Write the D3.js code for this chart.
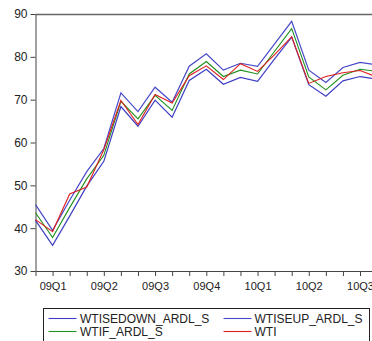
<!DOCTYPE html>
<html>
<head>
<meta charset="utf-8">
<script src="https://cdn.jsdelivr.net/npm/d3@7"></script>
<style>
  html, body { margin: 0; padding: 0; background: #fff; }
  svg { display: block; font-family: "Liberation Sans", Arial, sans-serif; }
</style>
</head>
<body>
<svg id="chart" width="372" height="341"></svg>
<script>
// Monthly observations, Jan 2009 – Sep 2010
const months = [
  "2009-01","2009-02","2009-03","2009-04","2009-05","2009-06","2009-07",
  "2009-08","2009-09","2009-10","2009-11","2009-12","2010-01","2010-02",
  "2010-03","2010-04","2010-05","2010-06","2010-07","2010-08","2010-09"
];

// Forecast minus one standard error
const wtiSeDown = [41.8, 36.0, 42.8, 49.8, 55.6, 68.4, 63.8, 69.9, 65.9, 74.5, 77.1,
                   73.6, 75.2, 74.3, 79.5, 84.6, 73.5, 70.8, 74.4, 75.4, 74.8];
// Forecast plus one standard error
const wtiSeUp   = [45.5, 39.5, 46.5, 53.2, 58.6, 71.6, 67.2, 72.9, 69.4, 77.8, 80.7,
                   76.9, 78.5, 77.8, 83.0, 88.3, 76.9, 74.0, 77.5, 78.7, 78.1];
// ARDL forecast
const wtiF      = [43.6, 37.8, 44.8, 51.5, 57.0, 69.6, 65.5, 71.0, 67.5, 76.0, 78.9,
                   75.4, 76.9, 76.0, 81.3, 86.6, 75.3, 72.3, 75.7, 77.1, 76.6];
// Actual WTI price
const wti       = [42.0, 39.2, 48.0, 49.6, 58.3, 69.8, 64.2, 71.2, 69.2, 75.6, 77.9,
                   74.7, 78.4, 76.6, 80.5, 84.7, 73.8, 75.4, 76.3, 76.8, 75.3];

// Quarter labels sit under the middle month of each quarter
const quarterLabels = ["09Q1","09Q2","09Q3","09Q4","10Q1","10Q2","10Q3"];
const quarterMonths = ["2009-02","2009-05","2009-08","2009-11","2010-02","2010-05","2010-08"];

const yTicks = [30, 40, 50, 60, 70, 80, 90];

const seriesNames  = ["WTISEDOWN_ARDL_S", "WTISEUP_ARDL_S", "WTIF_ARDL_S", "WTI"];
const seriesColors = ["#3e3ec4", "#4848c8", "#1f8f1f", "#e01e1e"];

const svg = d3.select("#chart");

const plotLeft = 35.5, plotTop = 14, plotBottom = 271;
const step = 17.08;

const x = d3.scalePoint()
  .domain(months)
  .range([plotLeft, plotLeft + step * (months.length - 1)])
  .padding(0);

const y = d3.scaleLinear().domain([30, 90]).range([plotBottom, plotTop]);

const axisColor = "#444";

// Top frame line
svg.append("line")
  .attr("x1", plotLeft).attr("x2", 372)
  .attr("y1", plotTop + 0.5).attr("y2", plotTop + 0.5)
  .attr("stroke", "#666").attr("stroke-width", 1.3);

// Y axis
const yAxis = svg.append("g")
  .attr("transform", `translate(${plotLeft},0)`)
  .call(d3.axisLeft(y).tickValues(yTicks).tickSize(5).tickPadding(3).tickSizeOuter(0));
yAxis.select(".domain").attr("stroke", axisColor);
yAxis.selectAll(".tick line").attr("stroke", axisColor);
yAxis.selectAll(".tick text")
  .attr("fill", "#222").style("font-size", "12px")
  .style("font-family", "'Liberation Sans', Arial, sans-serif");

// X axis: a tick every month, labels at quarter midpoints
const labelFor = new Map(quarterMonths.map((m, i) => [m, quarterLabels[i]]));
const xAxis = svg.append("g")
  .attr("transform", `translate(0,${plotBottom})`)
  .call(d3.axisBottom(x).tickValues(months).tickSize(5).tickSizeOuter(0)
    .tickFormat(m => labelFor.get(m) || ""));
xAxis.select(".domain").attr("stroke", axisColor);
xAxis.selectAll(".tick line").attr("stroke", axisColor);
xAxis.selectAll(".tick text")
  .attr("y", 18.5).attr("dy", null)
  .attr("fill", "#222").style("font-size", "11px")
  .style("font-family", "'Liberation Sans', Arial, sans-serif");

// Series lines
const line = d3.line()
  .x((d, i) => x(months[i]))
  .y(d => y(d));

const allSeries = [wtiSeDown, wtiSeUp, wtiF, wti];
allSeries.forEach((vals, k) => {
  svg.append("path")
    .datum(vals)
    .attr("d", line)
    .attr("fill", "none")
    .attr("stroke", seriesColors[k])
    .attr("stroke-width", k < 2 ? 1.2 : 1.1)
    .attr("stroke-linejoin", "miter");
});

// Legend
const legend = svg.append("g");
legend.append("rect")
  .attr("x", 43.5).attr("y", 308.5)
  .attr("width", 326).attr("height", 40)
  .attr("fill", "#fff").attr("stroke", "#222").attr("stroke-width", 1);

const legendPos = [
  { lx: 48.5,  tx: 80,    ly: 318.5 },
  { lx: 223.5, tx: 254.5, ly: 318.5 },
  { lx: 48.5,  tx: 80,    ly: 331.5 },
  { lx: 223.5, tx: 254.5, ly: 331.5 }
];
seriesNames.forEach((name, k) => {
  const p = legendPos[k];
  legend.append("line")
    .attr("x1", p.lx).attr("x2", p.lx + 28)
    .attr("y1", p.ly).attr("y2", p.ly)
    .attr("stroke", seriesColors[k]).attr("stroke-width", 1.1);
  legend.append("text")
    .attr("x", p.tx).attr("y", p.ly + 4.3)
    .attr("fill", "#222")
    .style("font-size", "12px")
    .text(name);
});
</script>
</body>
</html>
